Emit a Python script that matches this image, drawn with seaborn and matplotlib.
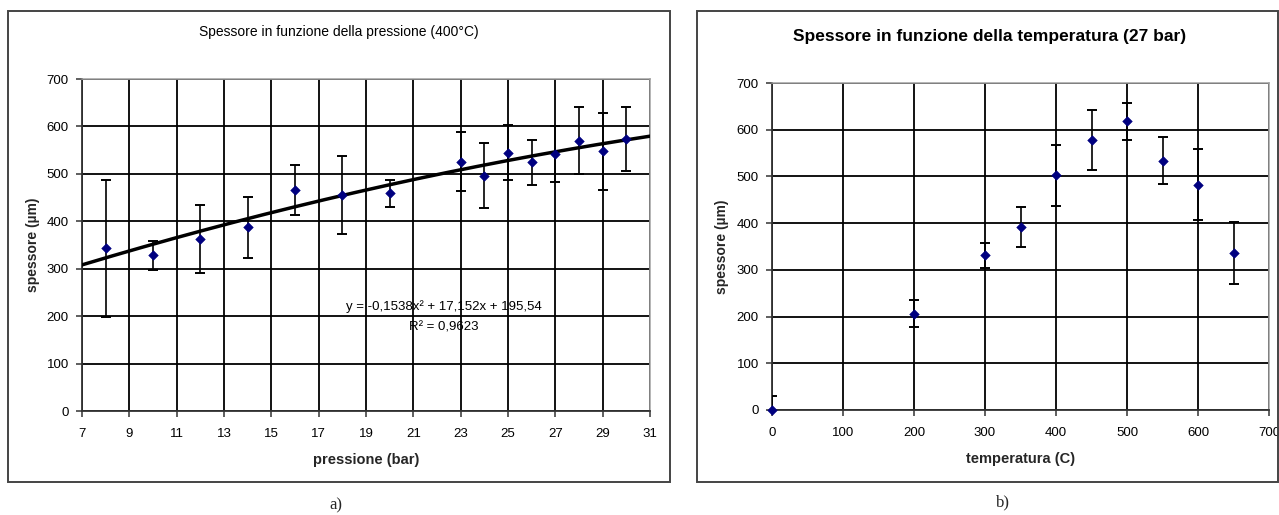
import matplotlib
matplotlib.use("Agg")
import numpy as np
import pandas as pd
import seaborn as sns
import matplotlib.pyplot as plt
from matplotlib.patches import Rectangle

# --- thickness vs pressure (400 °C) ---
pressione = [8, 10, 12, 14, 16, 18, 20, 23, 24, 25, 26, 27, 28, 29, 30]
spessore_p = [343, 328, 362, 387, 466, 455, 459, 526, 496, 544, 524, 541, 570, 548, 573]
errore_p = [145, 30, 72, 64, 53, 82, 28, 62, 69, 58, 47, 59, 71, 81, 67]
# quadratic trend line coefficients (a x^2 + b x + c) and its R^2
trend_coef = [-0.1538, 17.152, 195.54]
trend_r2 = 0.9623

# --- thickness vs temperature (27 bar) ---
temperatura = [0, 200, 300, 350, 400, 450, 500, 550, 600, 650]
spessore_t = [0, 206, 331, 392, 502, 578, 618, 534, 482, 336]
errore_t = [30, 29, 27, 42, 66, 65, 40, 50, 76, 67]

ticks_p = list(range(7, 32, 2))
ticks_t = list(range(0, 701, 100))
ticks_y = list(range(0, 701, 100))

sns.set_theme(style="white")
plt.rcParams["font.family"] = ["Liberation Sans", "DejaVu Sans"]

W, H = 1279, 515
fig = plt.figure(figsize=(W / 100, H / 100), dpi=100)
fig.patch.set_facecolor("white")

# chart frames
for (x0, y0, x1, y1) in [(8, 11, 670, 482), (697, 11, 1278, 482)]:
    fig.add_artist(Rectangle((x0 / W, 1 - y1 / H), (x1 - x0) / W, (y1 - y0) / H,
                             transform=fig.transFigure, fill=False,
                             ec="#444444", lw=1.4))

ax1 = fig.add_axes([82 / W, 1 - 411 / H, (650 - 82) / W, (411 - 79) / H])
ax2 = fig.add_axes([772 / W, 1 - 410 / H, (1269 - 772) / W, (410 - 83) / H])


def style_axes(ax, xticks, xlim):
    ax.set_xlim(*xlim)
    ax.set_ylim(0, 700)
    ax.set_xticks(xticks)
    ax.set_yticks(ticks_y)
    ax.set_axisbelow(True)
    ax.grid(True, color="black", lw=1.3)
    for side in ("left", "bottom"):
        ax.spines[side].set_color("#333333")
        ax.spines[side].set_linewidth(1.3)
    for side in ("top", "right"):
        ax.spines[side].set_color("#a0a0a0")
        ax.spines[side].set_linewidth(1.1)
    ax.tick_params(axis="both", direction="out", length=4, width=1.1,
                   color="#333333", labelsize=9.5, labelcolor="black")
    ax.tick_params(axis="x", pad=8, bottom=True)
    ax.tick_params(axis="y", pad=5.5, left=True)
    ax.set_facecolor("white")


# left chart
style_axes(ax1, ticks_p, (7, 31))
xs = np.linspace(7, 31, 300)
ys = np.polyval(trend_coef, xs)
sns.lineplot(x=xs, y=ys, ax=ax1, color="black", lw=2.5, zorder=3)
ax1.errorbar(pressione, spessore_p, yerr=errore_p, fmt="none", ecolor="black",
             elinewidth=1.2, capsize=3.6, capthick=1.4, zorder=4)
sns.scatterplot(x=pressione, y=spessore_p, ax=ax1, marker="D", s=24,
                color="#000080", edgecolor="#000080", zorder=5, clip_on=False)


def fmt_num(v, nd):
    return f"{v:.{nd}f}".replace(".", ",")


a, b, c = trend_coef
eq = f"y = -{fmt_num(abs(a), 4)}x² + {fmt_num(b, 3)}x + {fmt_num(c, 2)}"
ax1.text(22.3, 220, eq, ha="center", va="center", fontsize=9.5, color="black")
ax1.text(22.3, 177, f"R² = {fmt_num(trend_r2, 4)}", ha="center", va="center",
         fontsize=9.5, color="black")

ax1.set_xlabel("pressione (bar)", fontsize=10.5, fontweight="bold")
ax1.set_ylabel("spessore (µm)", fontsize=10, fontweight="bold")
ax1.xaxis.set_label_coords(0.5, -0.148)
ax1.xaxis.label.set_va("center")
ax1.yaxis.set_label_coords(-0.086, 0.5)
ax1.yaxis.label.set_va("center")

# right chart
style_axes(ax2, ticks_t, (0, 700))
ax2.errorbar(temperatura, spessore_t, yerr=errore_t, fmt="none", ecolor="black",
             elinewidth=1.2, capsize=3.6, capthick=1.4, zorder=4)
sns.scatterplot(x=temperatura, y=spessore_t, ax=ax2, marker="D", s=24,
                color="#000080", edgecolor="#000080", zorder=5, clip_on=False)
ax2.set_xlabel("temperatura (C)", fontsize=10.5, fontweight="bold")
ax2.set_ylabel("spessore (µm)", fontsize=10, fontweight="bold")
ax2.xaxis.set_label_coords(0.5, -0.15)
ax2.xaxis.label.set_va("center")
ax2.yaxis.set_label_coords(-0.10, 0.5)
ax2.yaxis.label.set_va("center")

# titles
fig.text(339 / W, 1 - 32 / H, "Spessore in funzione della pressione (400°C)",
         ha="center", va="center", fontsize=10, color="black")
fig.text(990 / W, 1 - 37 / H, "Spessore in funzione della temperatura (27 bar)",
         ha="center", va="center", fontsize=12.5, fontweight="bold", color="black")

# panel captions
fig.text(336 / W, 1 - 505 / H, "a)", ha="center", va="center", fontsize=12,
         family=["Liberation Serif", "DejaVu Serif"])
fig.text(1003 / W, 1 - 502 / H, "b)", ha="center", va="center", fontsize=12,
         family=["Liberation Serif", "DejaVu Serif"])

fig.savefig("out.png", dpi=100, facecolor="white")
